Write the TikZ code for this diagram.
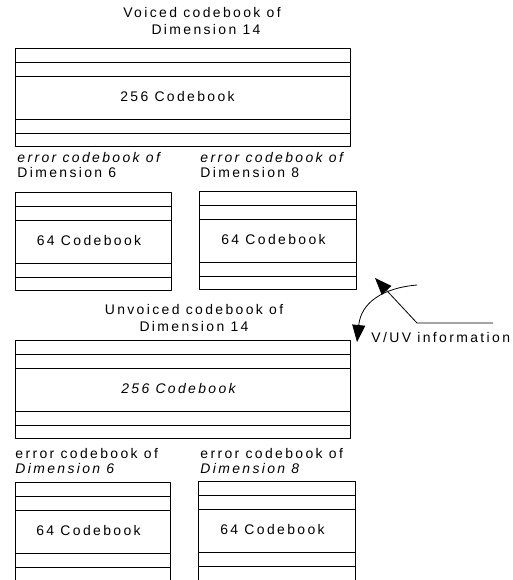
\documentclass[tikz,border=0pt]{standalone}
\usepackage{fontspec}
\setmainfont{Liberation Sans}[LetterSpace=17]
\usetikzlibrary{arrows.meta}

\begin{document}
\begin{tikzpicture}[x=1bp, y=-1bp, line width=0.8bp, line join=round, >={Triangle[length=17bp,width=13bp]},
		font=\fontsize{14}{17}\selectfont,
		lab/.style={anchor=west, inner sep=0pt, align=left, font=\fontsize{14}{16}\selectfont},
		ttl/.style={inner sep=0pt, align=center}]
	\clip (0,0) rectangle (513,580);
	% codebooks: name/left/top/right/height
	\foreach \n/\l/\t/\r/\h in {V/15/48/350/98, Ve/15/192/171/98, Vf/199/191/356/98, U/15/340/350/98, Ue/15/482/170/110, Uf/198/481/355/110} {
		\draw (\l,\t) rectangle (\r,\t+\h);
		\foreach \d in {14,28,71,85} \draw (\l,\t+\d) -- (\r,\t+\d);
		\coordinate (\n) at ({(\l+\r)/2},\t+49);
	}
	% titles
	\node[ttl] (Vt) at (202,21) {Voiced codebook of\\\hspace*{8bp}Dimension 14};
	\node[ttl] (Ut) at (194,318) {Unvoiced codebook of\\Dimension 14};
	\node[lab] (Vel) at (17,165) {\itshape error codebook of\\Dimension 6};
	\node[lab] (Vfl) at (200,165) {\itshape error codebook of\\Dimension 8};
	\node[lab] (Uel) at (15,461) {error codebook of\\\itshape Dimension 6};
	\node[lab] (Ufl) at (200,461) {error codebook of\\\itshape Dimension 8};
	% codebook sizes
	\node (Vc) at ([xshift=-5bp]V) {256 Codebook};
	\node (Uc) at ([xshift=-4bp]U) {\itshape 256 Codebook};
	\foreach \n in {Ve,Vf,Ue,Uf} \node (\n c) at ([xshift=-4bp]\n) {64 Codebook};
	% V/UV switch
	\node[lab] (info) at (371,338) {V/UV information};
	\coordinate (a1) at (417,285);
	\coordinate (a2) at (357,342);
	\coordinate (b1) at (493,323);
	\coordinate (b2) at (417,323);
	\coordinate (b3) at (375,278);
	\draw[->] (a1) .. controls (382,288) and (361,303) .. (a2);
	\draw[->] (b1) -- (b2) -- (b3);
\end{tikzpicture}
\end{document}
